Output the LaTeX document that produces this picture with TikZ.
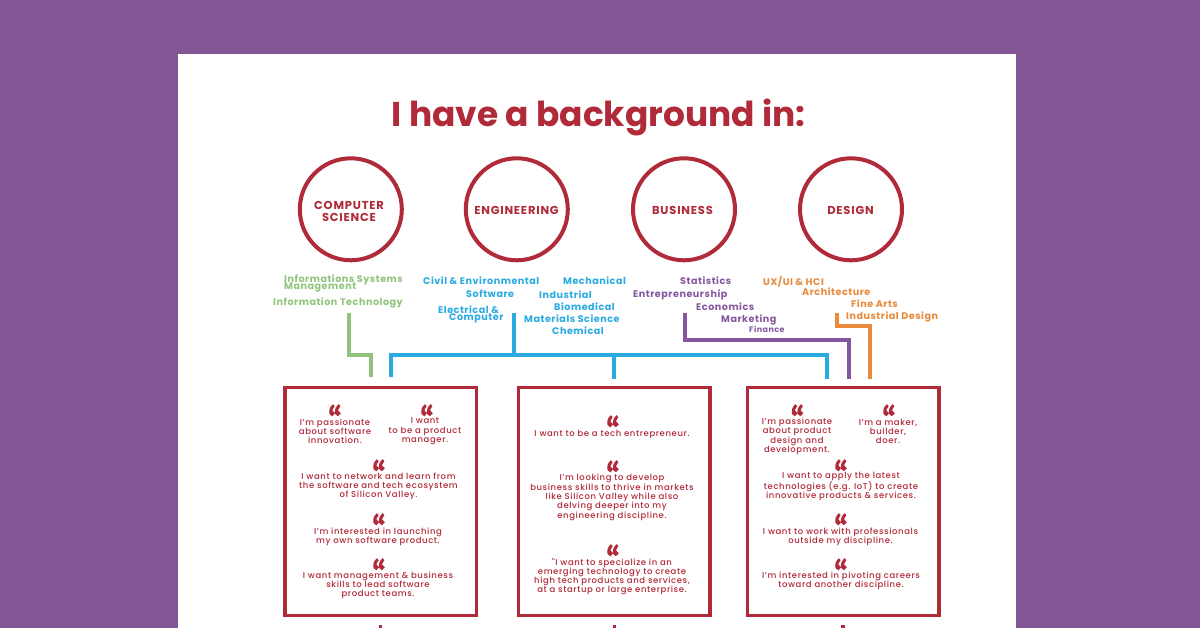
\documentclass[tikz,border=0pt]{standalone}
\usepackage{fontspec}
\setmainfont{Poppins}
\newfontfamily\lblfont[LetterSpace=5.5]{Poppins}
\newfontfamily\headfont[LetterSpace=7]{Poppins}
\newfontfamily\bodyfont[LetterSpace=7]{Poppins Medium}
\newfontfamily\quotefont[FakeBold=8]{Latin Modern Roman}
\definecolor{bgpurple}{HTML}{825695}
\definecolor{crimson}{HTML}{B12A39}
\definecolor{cgreen}{HTML}{90C47C}
\definecolor{cblue}{HTML}{29ABE2}
\definecolor{cpurple}{HTML}{8557A0}
\definecolor{corange}{HTML}{E9893A}
\tikzset{
  circlebox/.style={circle,draw=crimson,line width=4pt,minimum size=102pt,inner sep=0pt},
  circlelabel/.style={font=\fontsize{11.5}{12.7}\selectfont\bfseries\headfont,text=crimson,align=center,inner sep=0pt},
  quotebox/.style={draw=crimson,line width=3.4pt,inner sep=0pt},
  quotemark/.style={font=\fontsize{31}{31}\selectfont\quotefont,text=crimson,inner sep=0pt,anchor=base},
  saying/.style={font=\fontsize{8.5}{9.3}\selectfont\bodyfont,text=crimson,align=center,inner sep=0pt,anchor=center},
  lab/.style={font=\fontsize{9.6}{9.6}\selectfont\bfseries\lblfont,inner sep=0pt,anchor=west},
  conn/.style={line width=4pt,line cap=butt,line join=miter},
}
\newcommand{\qm}[3]{\node[quotemark] (#1) at (#2,#3+17.5) {“};}
\newcommand{\say}[4]{\node[saying] (#1) at (#2,#3+1.3) {#4};}
\begin{document}
\begin{tikzpicture}[x=1pt,y=-1pt]
\useasboundingbox (0,0) rectangle (1200,628);
\fill[bgpurple] (0,0) rectangle (1200,628);
\fill[white] (178,54) rectangle (1016,628);
\node[font=\fontsize{34.4}{38}\selectfont\bfseries,text=crimson,inner sep=0pt,anchor=base] (title) at (598.5,127) {I have a background in:};
% circles
\node[circlebox] (cs) at (350.8,209.3) {};
\node[circlebox] (eng) at (516.8,209.3) {};
\node[circlebox] (bus) at (684,209.3) {};
\node[circlebox] (des) at (851,209.3) {};
\node[circlelabel] (cst) at (349,211.5) {COMPUTER\\SCIENCE};
\node[circlelabel] (engt) at (516.5,210) {ENGINEERING};
\node[circlelabel] (bust) at (682.5,210) {BUSINESS};
\node[circlelabel] (dest) at (850.5,210) {DESIGN};
% green labels
\begin{scope}[every node/.append style={lab,text=cgreen}]
\node (g1) at (284,279.5) {Informations Systems};
\node (g2) at (284,287.5) {Management};
\node (g3) at (273,302.5) {Information Technology};
\end{scope}
\begin{scope}[every node/.append style={lab,text=cblue}]
\node (b1) at (423,281) {Civil \& Environmental};
\node (b2) at (563,281) {Mechanical};
\node (b3) at (466,294) {Software};
\node (b4) at (539,294.5) {Industrial};
\node (b5) at (438,310) {Electrical \&};
\node (b6) at (449,318.5) {Computer};
\node (b7) at (554,307) {Biomedical};
\node (b8) at (524,319) {Materials Science};
\node (b9) at (552,331) {Chemical};
\end{scope}
\begin{scope}[every node/.append style={lab,text=cpurple}]
\node (p1) at (680,281) {Statistics};
\node (p2) at (633,294.5) {Entrepreneurship};
\node (p3) at (696,306.5) {Economics};
\node (p4) at (721,319.5) {Marketing};
\node[font=\fontsize{8}{8}\selectfont\bfseries\lblfont] (p5) at (749,329) {Finance};
\end{scope}
\begin{scope}[every node/.append style={lab,text=corange}]
\node (o1) at (763,281.5) {UX/UI \& HCI};
\node (o2) at (802,292) {Architecture};
\node (o3) at (851,304) {Fine Arts};
\node (o4) at (846,316.5) {Industrial Design};
\end{scope}
% boxes
\node[quotebox,minimum width=191.6pt,minimum height=228pt] (box1) at (380.8,501.7) {};
\node[quotebox,minimum width=191.6pt,minimum height=228pt] (box2) at (614.2,501.7) {};
\node[quotebox,minimum width=191.6pt,minimum height=228pt] (box3) at (843.3,501.7) {};
% connector ends
\coordinate (gs) at (349.3,313); \coordinate (ge) at (371,377);
\coordinate (bs) at (514.3,313); \coordinate (bj) at (514.3,355.3);
\coordinate (bl) at (390.7,377); \coordinate (bm) at (613.7,379.5); \coordinate (br) at (827,379.5);
\coordinate (ps) at (685.3,313); \coordinate (pe) at (848.7,379.5);
\coordinate (os) at (837.3,313); \coordinate (oe) at (869.7,379.5);
\draw[conn,cgreen] (gs) |- (ge |- bj) -- (ge);
\draw[conn,cblue] (bl) |- (bj) -| (br);
\draw[conn,cblue] (bs) -- (bj);
\draw[conn,cblue] (bm |- bj) -- (bm);
\draw[conn,corange] (os) -- (837.3,326) -- (869.7,326) -- (oe);
\draw[conn,cpurple] (ps) -- (685.3,340.3) -- (848.7,340.3) -- (pe);
% box 1
\qm{q1}{335}{410}\say{s1}{335}{430}{I’m passionate\\about software\\innovation.}
\qm{q2}{427}{410}\say{s2}{425}{430}{I want\\to be a product\\manager.}
\qm{q3}{379}{465}\say{s3}{378.5}{485}{I want to network and learn from\\the software and tech ecosystem\\of Silicon Valley.}
\qm{q4}{379}{519}\say{s4}{378}{535.5}{I’m interested in launching\\my own software product.}
\qm{q5}{379}{564}\say{s5}{378}{584}{I want management \& business\\skills to lead software\\product teams.}
% box 2
\qm{q6}{613}{421}\say{s6}{612}{433}{I want to be a tech entrepreneur.}
\qm{q7}{613}{466}\say{s7}{612}{496}{I’m looking to develop\\business skills to thrive in markets\\like Silicon Valley while also\\delving deeper into my\\engineering discipline.}
\qm{q8}{613}{550}\say{s8}{612}{575.5}{"I want to specialize in an\\emerging technology to create\\high tech products and services,\\at a startup or large enterprise.}
% box 3
\qm{q9}{797.5}{410}\say{s9}{797}{435}{I’m passionate\\about product\\design and\\development.}
\qm{q10}{889}{410}\say{s10}{888}{430}{I’m a maker,\\builder,\\doer.}
\qm{q11}{841}{465}\say{s11}{841}{485}{I want to apply the latest\\technologies (e.g. IoT) to create\\innovative products \& services.}
\qm{q12}{841}{519}\say{s12}{840.5}{535.5}{I want to work with professionals\\outside my discipline.}
\qm{q13}{841}{564}\say{s13}{841}{579.5}{I’m interested in pivoting careers\\toward another discipline.}
% bottom stubs
\fill[crimson] (379,624.5) rectangle (382.3,628);
\fill[crimson] (612.8,624.5) rectangle (616.2,628);
\fill[crimson] (841,624.5) rectangle (844.5,628);
\end{tikzpicture}
\end{document}
